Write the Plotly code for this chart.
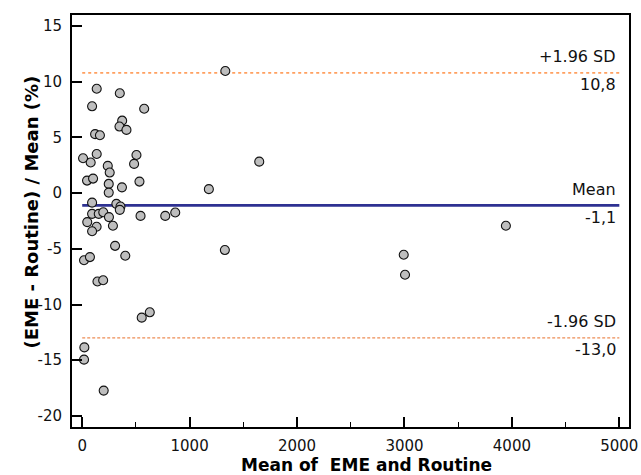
import plotly.graph_objects as go

# Bland-Altman data: mean of EME and Routine vs. percent difference
mean_vals = [1332, 135, 350, 92, 577, 372, 347, 412, 120, 165,
             135, 505, 8, 79, 483, 238, 1648, 256, 45, 101,
             533, 247, 370, 247, 1179, 92, 318, 356, 350, 92,
             154, 196, 249, 543, 773, 866, 47, 134, 92, 286,
             306, 401, 1328, 17, 72, 142, 195, 554, 629, 20,
             17, 200, 3944, 2993, 3005]
diff_pct = [10.97, 9.38, 8.97, 7.8, 7.58, 6.51, 5.98, 5.68, 5.3, 5.2,
            3.52, 3.43, 3.14, 2.75, 2.63, 2.45, 2.83, 1.85, 1.13, 1.31,
            1.04, 0.83, 0.52, 0.05, 0.36, -0.85, -0.96, -1.2, -1.5, -1.86,
            -1.86, -1.72, -2.15, -2.04, -2.04, -1.74, -2.6, -3.02, -3.42, -2.93,
            -4.73, -5.62, -5.11, -6.02, -5.74, -7.93, -7.82, -11.18, -10.7, -13.85,
            -14.95, -17.73, -2.93, -5.53, -7.33]

mean_diff = -1.1
upper_loa = 10.8
lower_loa = -13.0
line_x = [0, 5000]

x_tickvals = [0, 1000, 2000, 3000, 4000, 5000]
y_tickvals = [-20, -15, -10, -5, 0, 5, 10, 15]
y_ticktext = ["-20", "-15", "-10", "-5", "0", "5", "10", "15"]

upper_label = "+1.96 SD"
mean_label = "Mean"
lower_label = "-1.96 SD"
upper_text = "10,8"
mean_text = "-1,1"
lower_text = "-13,0"

x_title = "Mean of\u00a0 EME and Routine"
y_title = "(EME - Routine) / Mean (%)"

font_fam = "DejaVu Sans, Verdana, sans-serif"

fig = go.Figure()

fig.add_trace(go.Scatter(x=line_x, y=[upper_loa, upper_loa], mode="lines",
                         line=dict(color="#FFA060", width=1.6, dash="dot"),
                         hoverinfo="skip", showlegend=False))
fig.add_trace(go.Scatter(x=line_x, y=[lower_loa, lower_loa], mode="lines",
                         line=dict(color="#E8702A", width=1, dash="3px,2px"),
                         hoverinfo="skip", showlegend=False))
fig.add_trace(go.Scatter(x=line_x, y=[mean_diff, mean_diff], mode="lines",
                         line=dict(color="#2E3192", width=2.6),
                         hoverinfo="skip", showlegend=False))

fig.add_trace(go.Scatter(x=mean_vals, y=diff_pct, mode="markers",
                         marker=dict(size=9, color="#BEBEBE",
                                     line=dict(color="#111111", width=1.1)),
                         showlegend=False))

for val, above, below in [(upper_loa, upper_label, upper_text),
                          (mean_diff, mean_label, mean_text),
                          (lower_loa, lower_label, lower_text)]:
    fig.add_annotation(x=5000, y=val, xref="x", yref="y", text=above,
                       showarrow=False, xanchor="right", yanchor="middle",
                       yshift=16, xshift=-1,
                       font=dict(family=font_fam, size=16, color="#111111"))
    fig.add_annotation(x=5000, y=val, xref="x", yref="y", text=below,
                       showarrow=False, xanchor="right", yanchor="middle",
                       yshift=-12, xshift=-1,
                       font=dict(family=font_fam, size=16, color="#111111"))

# axis titles as annotations for exact placement
fig.add_annotation(x=0.528, y=0, xref="paper", yref="paper", text="<b>" + x_title + "</b>",
                   showarrow=False, xanchor="center", yanchor="middle", yshift=-38,
                   font=dict(family=font_fam, size=17, color="black"))
fig.add_annotation(x=0, y=0.5206, xref="paper", yref="paper", text="<b>" + y_title + "</b>",
                   showarrow=False, xanchor="center", yanchor="middle", xshift=-40,
                   textangle=-90,
                   font=dict(family=font_fam, size=18, color="black"))

fig.update_layout(
    width=641, height=475,
    margin=dict(l=72, r=12, t=15, b=48),
    paper_bgcolor="white", plot_bgcolor="white",
    font=dict(family=font_fam, size=15, color="#111111"),
    showlegend=False,
)

fig.update_xaxes(
    range=[-95, 5090], tickmode="array", tickvals=x_tickvals,
    ticks="inside", ticklen=10, tickwidth=1.5, tickcolor="black",
    minor=dict(ticks="inside", ticklen=5, tickwidth=1, tickcolor="black", dtick=500, tick0=0),
    showline=True, linecolor="black", linewidth=2, mirror=True,
    showgrid=False, zeroline=False, automargin=False,
    ticklabelstandoff=4,
    tickfont=dict(family=font_fam, size=15, color="#111111"),
)
fig.update_yaxes(
    range=[-21, 16], tickmode="array", tickvals=y_tickvals, ticktext=y_ticktext,
    ticks="inside", ticklen=10, tickwidth=1.5, tickcolor="black",
    showline=True, linecolor="black", linewidth=2, mirror=True,
    showgrid=False, zeroline=False, automargin=False,
    ticklabelstandoff=5,
    tickfont=dict(family=font_fam, size=15, color="#111111"),
)

fig.write_html("out.html", config={"displayModeBar": False},
               post_script="document.body.style.margin='0px';document.body.style.padding='0px';")
